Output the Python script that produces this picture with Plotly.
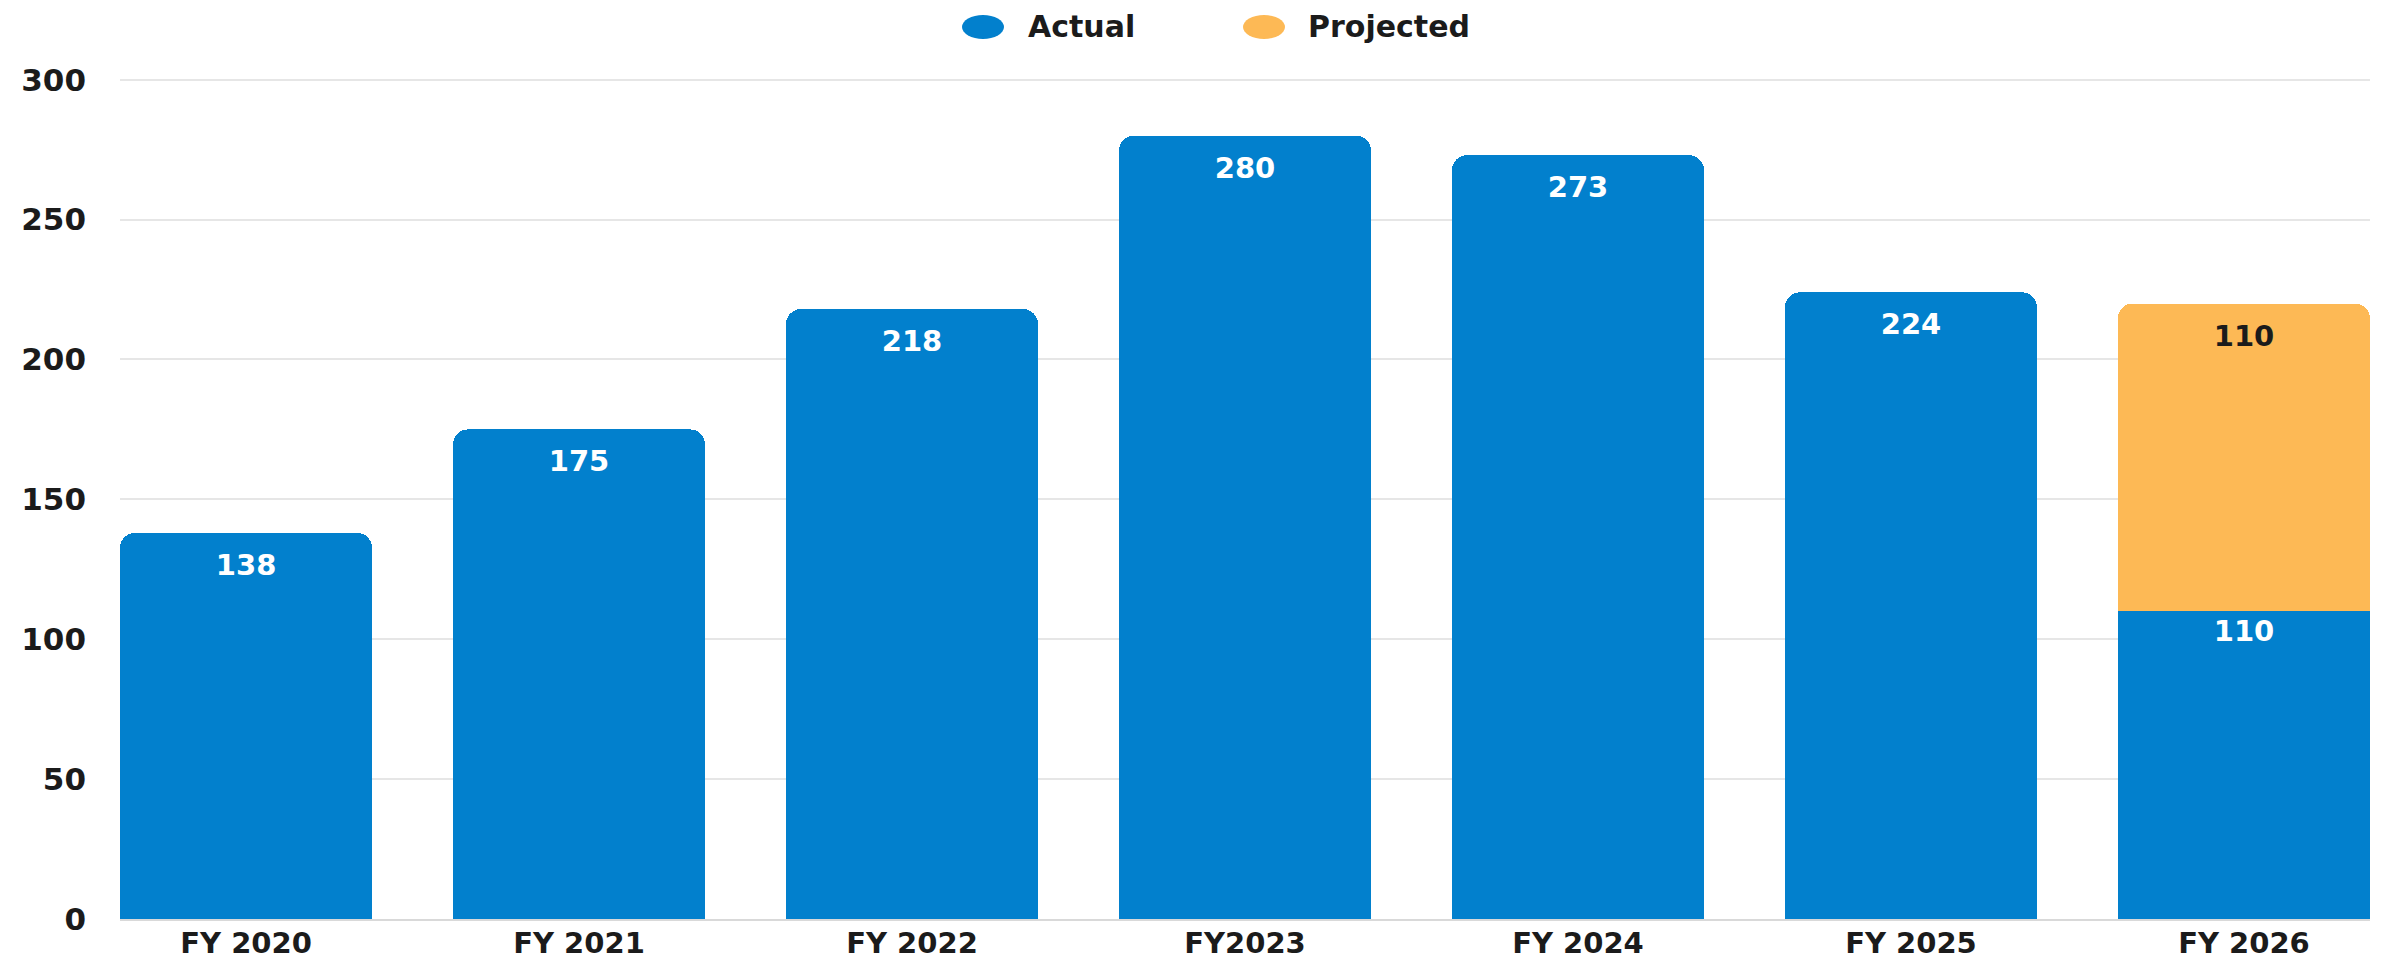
import plotly.graph_objects as go

categories = ["FY 2020", "FY 2021", "FY 2022", "FY2023", "FY 2024", "FY 2025", "FY 2026"]
actual = [138, 175, 218, 280, 273, 224, 110]
projected = [None, None, None, None, None, None, 110]
y_ticks = [0, 50, 100, 150, 200, 250, 300]
legend_names = ["Actual", "Projected"]

BLUE = "#0280CD"
ORANGE = "#FDB955"
FONT = "DejaVu Sans"
DARK = "#1b1b1b"

fig = go.Figure()
fig.add_trace(go.Bar(
    x=categories, y=actual, name="Actual", marker=dict(color=BLUE, line=dict(width=0)),
    text=[str(v) for v in actual], textposition="inside", insidetextanchor="end",
    textangle=0,
    textfont=dict(color="white", size=29, family=FONT, weight=700),
    showlegend=False, hoverinfo="skip",
))
fig.add_trace(go.Bar(
    x=categories, y=projected, name="Projected", marker=dict(color=ORANGE, line=dict(width=0)),
    text=[("" if v is None else str(v)) for v in projected], textposition="inside",
    insidetextanchor="end", textangle=0,
    textfont=dict(color=DARK, size=29, family=FONT, weight=700),
    showlegend=False, hoverinfo="skip",
))

# page has an 8px body margin; build the figure so the plot lands where the reference has it
OFF = 8
W, H = 2384 - OFF, 960 - OFF
L, T = 120 - OFF, 78 - OFF
R = 14
B = 41
pw, ph = W - L - R, H - T - B
def px(xpage):
    return (xpage - OFF - L) / pw
def py(ypage):
    return (H - B - (ypage - OFF)) / ph

shapes = []
annotations = []
for nm, col, cx, tx in [(legend_names[0], BLUE, 983, 1026), (legend_names[1], ORANGE, 1264, 1306)]:
    shapes.append(dict(
        type="circle", xref="paper", yref="paper", xsizemode="pixel", ysizemode="pixel",
        xanchor=px(cx), yanchor=py(27), x0=-21, x1=21, y0=-12, y1=12,
        fillcolor=col, line=dict(width=0),
    ))
    annotations.append(dict(
        text=nm, xref="paper", yref="paper", x=px(tx), y=py(26),
        xanchor="left", yanchor="middle", showarrow=False,
        font=dict(size=30, family=FONT, color=DARK, weight=700),
    ))

gap = 0.243
fig.update_layout(
    width=W, height=H,
    barmode="stack", bargap=gap, barcornerradius=15,
    plot_bgcolor="white", paper_bgcolor="white",
    margin=dict(l=L, r=R, t=T, b=B),
    font=dict(family=FONT, color=DARK, size=28, weight=700),
    showlegend=False,
    shapes=shapes, annotations=annotations,
    xaxis=dict(
        type="category", range=[-0.5 + gap / 2, len(categories) - 0.5 - gap / 2],
        showgrid=False, showline=True, linecolor="#d9d9d9", linewidth=2,
        tickfont=dict(size=29, family=FONT, color=DARK, weight=700),
        ticks="", automargin=False, ticklabelstandoff=-3,
    ),
    yaxis=dict(
        range=[0, 300.6], tickvals=y_ticks, showgrid=True, gridcolor="#e6e6e6", gridwidth=2,
        zeroline=False, showline=False,
        tickfont=dict(size=31, family=FONT, color=DARK, weight=700),
        ticklabelstandoff=33, automargin=False,
    ),
)

fig.write_html("out.html")
